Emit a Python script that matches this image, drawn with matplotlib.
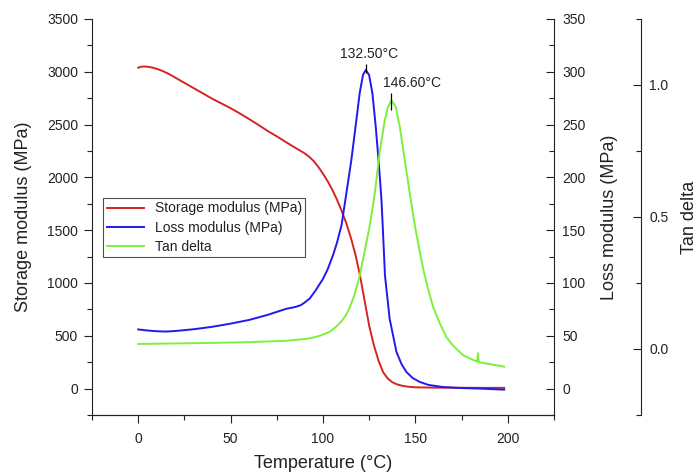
import numpy as np
import matplotlib
matplotlib.use('Agg')
import matplotlib.pyplot as plt
from matplotlib.ticker import MultipleLocator

plt.rcParams['font.family'] = ['Liberation Sans', 'DejaVu Sans']
plt.rcParams['text.color'] = '#222222'
plt.rcParams['axes.labelcolor'] = '#222222'

# storage modulus (MPa) vs temperature (C)
storage_temp = [0, 1.5, 3, 5, 7.5, 10, 12.5, 15, 17.5, 20, 25, 30, 35, 40, 45, 50, 55, 60, 65,
                70, 75, 80, 85, 90, 92.5, 95, 97.5, 100, 102.5, 105, 107.5, 110, 112.5, 115,
                117.5, 120, 122.5, 125, 127.5, 130, 132.5, 135, 137.5, 140, 142.5, 145, 147.5,
                150, 160, 170, 185, 198]
storage = [3038, 3047, 3050, 3048, 3040, 3028, 3012, 2993, 2970, 2945, 2895, 2845, 2795, 2745,
           2700, 2655, 2605, 2552, 2497, 2440, 2388, 2333, 2280, 2228, 2195, 2153, 2098, 2033,
           1963, 1883, 1790, 1685, 1570, 1430, 1270, 1070, 830, 592, 410, 265, 155, 95, 60, 40,
           28, 20, 15, 12, 9, 8, 7, 7]

# loss modulus (MPa)
loss_temp = [0, 5, 10, 15, 20, 30, 40, 50, 60, 70, 80, 85, 88, 90, 92.8, 96, 100, 102.5, 105.4,
             107.5, 110, 112.6, 115.3, 118, 119.8, 121.6, 123.1, 124.9, 126.7, 128.5, 130.3,
             131.6, 132.3, 133.5, 136, 139.7, 142.5, 145.1, 148.5, 152.3, 157, 164.7, 175,
             184.7, 198]
loss = [56, 55, 54.3, 54, 54.5, 56.2, 58.5, 61.5, 65, 69.8, 75.5, 77.3, 79, 81.5, 85.3, 93, 104,
        113, 126.4, 138, 154.8, 184.8, 216.4, 254, 279.6, 297, 301.7, 297, 279.6, 248, 210,
        178.5, 153, 107, 66.3, 34.7, 23, 15.7, 10, 6.3, 3.5, 1.5, 0.5, 0, -1]

# tan delta
tan_temp = [0, 20, 40, 60, 80, 87.4, 92.8, 98.2, 103.6, 107.2, 110, 112.5, 114.4, 117, 119.8,
            122.5, 125.2, 128, 130.6, 133.4, 135.2, 137, 139.3, 141.5, 144.2, 146.9, 149.6,
            152, 154.1, 156.5, 159.5, 163, 166.7, 170.4, 175.7, 180, 183.4, 183.8, 184.2,
            190, 198]
tan_delta = [0.019, 0.021, 0.023, 0.026, 0.031, 0.036, 0.040, 0.050, 0.065, 0.085, 0.105, 0.130,
             0.157, 0.205, 0.277, 0.370, 0.465, 0.590, 0.745, 0.867, 0.918, 0.941, 0.918, 0.842,
             0.716, 0.590, 0.470, 0.380, 0.306, 0.235, 0.160, 0.100, 0.045, 0.012, -0.023,
             -0.038, -0.048, -0.016, -0.050, -0.057, -0.067]

loss_peak_label = '132.50°C'
tan_peak_label = '146.60°C'

red = '#d42424'
blue = '#2318ee'
green = '#7ef03c'
dark = '#222222'

fig = plt.figure(figsize=(6.97, 4.74), dpi=100)
ax = fig.add_axes([0.132, 0.1245, 0.663, 0.8355])
ax2 = ax.twinx()
ax3 = ax.twinx()

l1, = ax.plot(storage_temp, storage, color=red, lw=1.4, label='Storage modulus (MPa)')
l2, = ax2.plot(loss_temp, loss, color=blue, lw=1.4, label='Loss modulus (MPa)')
l3, = ax3.plot(tan_temp, tan_delta, color=green, lw=1.4, label='Tan delta')

ax.set_xlim(-25, 225)
ax.set_ylim(-250, 3500)
ax2.set_ylim(-25, 350)
ax3.set_ylim(-0.25, 1.25)

ax.xaxis.set_major_locator(MultipleLocator(50))
ax.xaxis.set_minor_locator(MultipleLocator(25))
ax.yaxis.set_major_locator(MultipleLocator(500))
ax.yaxis.set_minor_locator(MultipleLocator(250))
ax2.yaxis.set_major_locator(MultipleLocator(50))
ax2.yaxis.set_minor_locator(MultipleLocator(25))
ax3.yaxis.set_major_locator(MultipleLocator(0.5))
ax3.yaxis.set_minor_locator(MultipleLocator(0.25))
ax3.yaxis.set_major_formatter(plt.FormatStrFormatter('%.1f'))

for a in (ax, ax2, ax3):
    for s in a.spines.values():
        s.set_color(dark)
        s.set_linewidth(0.8)
    a.spines['top'].set_visible(False)

ax.spines['right'].set_visible(False)
ax2.spines['left'].set_visible(False)
ax3.spines['left'].set_visible(False)
ax3.spines['bottom'].set_visible(False)
ax3.spines['right'].set_position(('axes', 1.188))

ax.tick_params(axis='both', which='major', direction='out', length=6, width=0.8,
               labelsize=10, pad=4, colors=dark)
ax.tick_params(axis='both', which='minor', direction='out', length=3.5, width=0.8, colors=dark)
ax.tick_params(axis='x', which='major', pad=6)
for a in (ax2, ax3):
    a.tick_params(axis='y', which='major', direction='in', length=6, width=0.8,
                  labelsize=10, pad=6, colors=dark)
    a.tick_params(axis='y', which='minor', direction='in', length=3.5, width=0.8, colors=dark)

ax.set_xlabel('Temperature (°C)', fontsize=13)
ax.set_ylabel('Storage modulus (MPa)', fontsize=13)
ax2.set_ylabel('Loss modulus (MPa)', fontsize=13)
ax3.set_ylabel('Tan delta', fontsize=13)
ax.xaxis.set_label_coords(0.5, -0.101)
ax.yaxis.set_label_coords(-0.129, 0.5)
ax2.yaxis.set_label_coords(1.1006, 0.5)
ax3.yaxis.set_label_coords(1.2738, 0.5)

# peak markers
i = int(np.argmax(loss))
ax2.vlines(loss_temp[i], loss[i] - 3, loss[i] + 6, color='k', lw=0.9)
ax2.text(loss_temp[i] + 1.6, loss[i] + 15, loss_peak_label, ha='center', va='center', fontsize=10)
j = int(np.argmax(tan_delta))
ax3.vlines(tan_temp[j], tan_delta[j] - 0.035, tan_delta[j] + 0.03, color='k', lw=0.9)
ax3.text(tan_temp[j] + 11, tan_delta[j] + 0.066, tan_peak_label, ha='center', va='center', fontsize=10)

leg = ax.legend(handles=[l1, l2, l3], loc='upper left', bbox_to_anchor=(0.0245, 0.548),
                borderaxespad=0, fontsize=10, frameon=True, fancybox=False,
                handlelength=2.7, handletextpad=0.75, borderpad=0.25, labelspacing=0.38)
leg.get_frame().set_edgecolor(dark)
leg.get_frame().set_linewidth(0.8)

fig.savefig('out.png', dpi=100)
